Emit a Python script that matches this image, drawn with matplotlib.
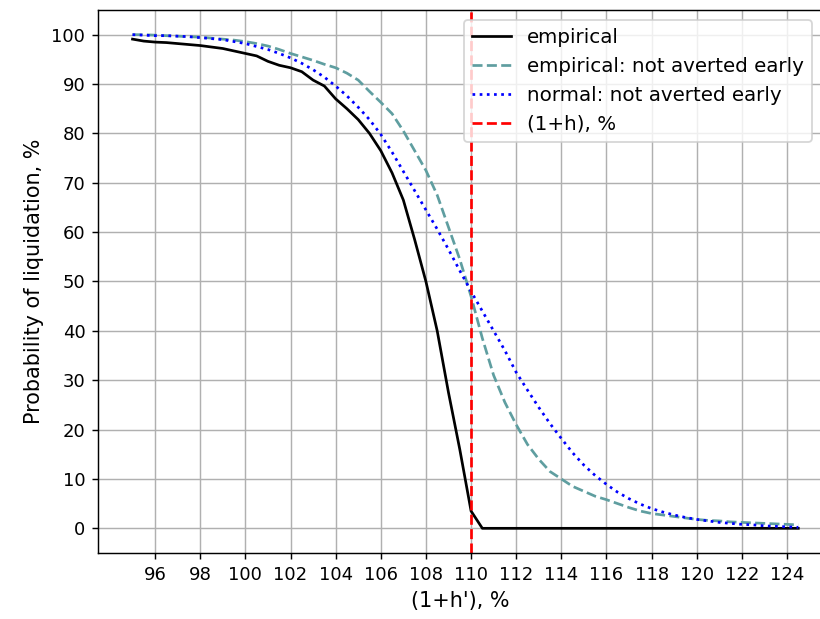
import matplotlib
matplotlib.use("Agg")
from matplotlib import pyplot as plt

# (1+h'), % sampled every 0.5
h_prime = [95.0, 95.5, 96.0, 96.5, 97.0, 97.5, 98.0, 98.5, 99.0, 99.5,
           100.0, 100.5, 101.0, 101.5, 102.0, 102.5, 103.0, 103.5, 104.0, 104.5,
           105.0, 105.5, 106.0, 106.5, 107.0, 107.5, 108.0, 108.5, 109.0, 109.5,
           110.0, 110.5, 111.0, 111.5, 112.0, 112.5, 113.0, 113.5, 114.0, 114.5,
           115.0, 115.5, 116.0, 116.5, 117.0, 117.5, 118.0, 118.5, 119.0, 119.5,
           120.0, 120.5, 121.0, 121.5, 122.0, 122.5, 123.0, 123.5, 124.0, 124.5]

empirical = [99.1, 98.7, 98.5, 98.4, 98.2, 98.0, 97.8, 97.5, 97.2, 96.7,
             96.2, 95.7, 94.6, 93.8, 93.3, 92.5, 90.8, 89.6, 87.0, 85.0,
             82.8, 80.0, 76.5, 72.0, 66.5, 58.5, 50.0, 40.0, 27.5, 16.0,
             3.5, 0.0, 0.0, 0.0, 0.0, 0.0, 0.0, 0.0, 0.0, 0.0,
             0.0, 0.0, 0.0, 0.0, 0.0, 0.0, 0.0, 0.0, 0.0, 0.0,
             0.0, 0.0, 0.0, 0.0, 0.0, 0.0, 0.0, 0.0, 0.0, 0.0]

empirical_not_averted = [100.0, 100.0, 99.9, 99.8, 99.7, 99.6, 99.5, 99.3, 99.1, 98.9,
                         98.6, 98.2, 97.7, 97.0, 96.2, 95.5, 94.8, 94.0, 93.3, 92.2,
                         90.8, 88.5, 86.3, 84.0, 80.5, 76.5, 72.5, 67.5, 61.0, 54.5,
                         47.0, 38.5, 31.0, 25.5, 21.0, 17.0, 14.0, 11.5, 10.0, 8.5,
                         7.5, 6.5, 5.8, 5.0, 4.2, 3.5, 3.0, 2.7, 2.4, 2.1,
                         1.8, 1.6, 1.5, 1.3, 1.2, 1.1, 1.0, 0.9, 0.8, 0.7]

normal_not_averted = [100.0, 99.9, 99.8, 99.8, 99.7, 99.6, 99.4, 99.2, 99.0, 98.6,
                      98.2, 97.6, 97.0, 96.2, 95.3, 94.2, 92.9, 91.4, 89.6, 87.6,
                      85.3, 82.8, 79.8, 76.2, 72.3, 68.4, 64.5, 60.6, 56.5, 52.2,
                      48.0, 44.0, 40.0, 36.0, 31.6, 28.0, 24.5, 21.2, 18.2, 15.3,
                      12.8, 10.7, 8.9, 7.3, 6.0, 4.9, 4.0, 3.3, 2.7, 2.2,
                      1.8, 1.5, 1.2, 1.0, 0.8, 0.7, 0.5, 0.4, 0.3, 0.2]

h_line = 110


def main():
    dpi = 130
    fig = plt.figure(figsize=(820 / dpi, 619 / dpi), dpi=dpi)
    ax = fig.add_axes([98 / 820, 66 / 619, (822 - 98) / 820, 543 / 619])

    ax.plot(h_prime, empirical, color="black", label="empirical")
    ax.plot(h_prime, empirical_not_averted, color="cadetblue", linestyle="--",
            label="empirical: not averted early")
    ax.plot(h_prime, normal_not_averted, color="blue", linestyle=":",
            label="normal: not averted early")
    ax.axvline(h_line, color="red", linestyle="--", label="(1+h), %")

    ax.set_xlim(93.47, 125.55)
    ax.set_ylim(-5, 105)
    ax.set_xticks(range(96, 125, 2))
    ax.set_yticks(range(0, 101, 10))
    ax.grid(True, which="both")

    ax.set_xlabel("(1+h'), %", fontsize=11.5)
    ax.set_ylabel("Probability of liquidation, %", fontsize=11.5)
    ax.legend(loc="upper right", fontsize=11)

    fig.savefig("out.png", dpi=dpi)


if __name__ == '__main__':
    main()
